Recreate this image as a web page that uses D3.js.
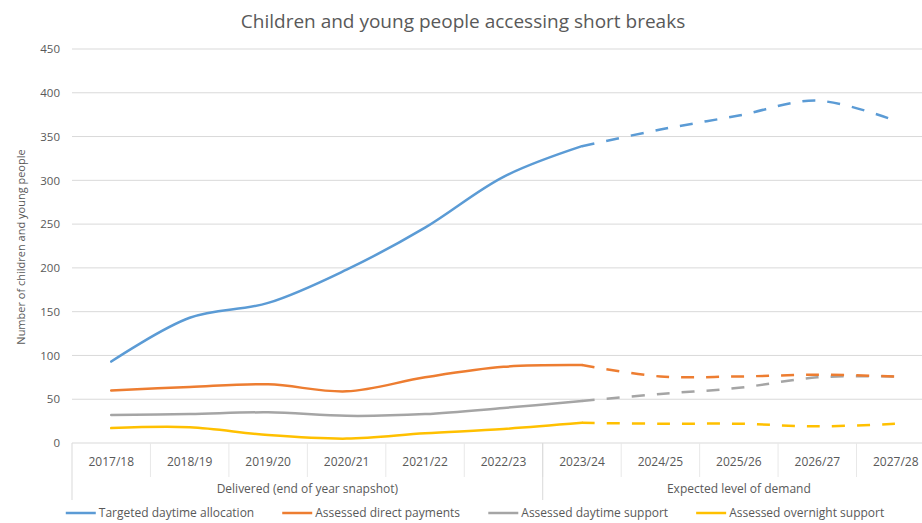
<!DOCTYPE html>
<html>
<head>
<meta charset="utf-8">
<script src="https://cdn.jsdelivr.net/npm/d3@7"></script>
<style>
  html, body { margin: 0; padding: 0; background: #fff; }
  svg { display: block; font-family: "Open Sans", sans-serif; }
</style>
</head>
<body>
<svg id="chart" width="922" height="523"></svg>
<script>
const categories = ["2017/18","2018/19","2019/20","2020/21","2021/22","2022/23","2023/24","2024/25","2025/26","2026/27","2027/28"];
const groups = [
  {label: "Delivered (end of year snapshot)", start: 0, end: 5},
  {label: "Expected level of demand", start: 6, end: 10}
];
const yTicks = [0, 50, 100, 150, 200, 250, 300, 350, 400, 450];

// delivered (solid) values, indices 0..6 ; expected (dashed) values, indices 6..10
const targetedDaytime   = [93, 143, 160, 198, 246, 304, 339];
const targetedDaytimeExp= [339, 358, 374, 391, 368];
const directPayments    = [60, 64, 67, 59, 75, 87, 89];
const directPaymentsExp = [89, 76, 76, 78, 76];
const daytimeSupport    = [32, 33, 35, 31, 33, 40, 48];
const daytimeSupportExp = [48, 56, 63, 75, 76];
const overnightSupport  = [17, 18, 9, 5, 11, 16, 23];
const overnightSupportExp=[23, 22, 22, 19, 22];

const seriesNames = ["Targeted daytime allocation","Assessed direct payments","Assessed daytime support","Assessed overnight support"];
const colors = ["#5B9BD5","#ED7D31","#A5A5A5","#FFC000"];

const series = [
  {name: seriesNames[0], color: colors[0], solid: targetedDaytime, dashed: targetedDaytimeExp},
  {name: seriesNames[1], color: colors[1], solid: directPayments, dashed: directPaymentsExp},
  {name: seriesNames[2], color: colors[2], solid: daytimeSupport, dashed: daytimeSupportExp},
  {name: seriesNames[3], color: colors[3], solid: overnightSupport, dashed: overnightSupportExp}
];

const svg = d3.select("#chart");
const textColor = "#595959";
const font = "'Open Sans', sans-serif";
const margin = {left: 72, right: 935, top: 49, bottom: 443};

const x = d3.scaleBand().domain(categories).range([margin.left, margin.right]);
const xc = c => x(c) + x.bandwidth() / 2;
const y = d3.scaleLinear().domain([0, 450]).range([margin.bottom, margin.top]);

// title
svg.append("text").attr("x", 463).attr("y", 28).attr("text-anchor", "middle")
  .attr("font-size", 19).attr("fill", textColor)
  .text("Children and young people accessing short breaks");

// gridlines
svg.append("g").selectAll("line").data(yTicks.filter(d => d > 0)).join("line")
  .attr("x1", margin.left).attr("x2", margin.right)
  .attr("y1", d => y(d)).attr("y2", d => y(d))
  .attr("stroke", "#d9d9d9").attr("stroke-width", 1);

// y axis labels
const yAxis = d3.axisLeft(y).tickValues(yTicks).tickSize(0).tickPadding(12);
const gy = svg.append("g").attr("transform", `translate(${margin.left},0)`).call(yAxis);
gy.select(".domain").remove();
gy.selectAll("text").attr("font-size", 11.5).attr("fill", textColor).attr("font-family", font);

// y axis title
svg.append("text").attr("transform", `translate(25,247) rotate(-90)`)
  .attr("text-anchor", "middle").attr("font-size", 11).attr("fill", textColor)
  .text("Number of children and young people");

// x axis line
svg.append("line").attr("x1", margin.left).attr("x2", margin.right)
  .attr("y1", margin.bottom).attr("y2", margin.bottom)
  .attr("stroke", "#d9d9d9").attr("stroke-width", 1);

// x axis category labels
const xAxis = d3.axisBottom(x).tickSize(0).tickPadding(14);
const gx = svg.append("g").attr("transform", `translate(0,${margin.bottom})`).call(xAxis);
gx.select(".domain").remove();
gx.selectAll("text").attr("font-size", 12).attr("fill", textColor).attr("font-family", font);

// category separators (inner ticks)
const innerTicks = categories.slice(1).map(c => x(c));
svg.append("g").selectAll("line").data(innerTicks).join("line")
  .attr("x1", d => d).attr("x2", d => d)
  .attr("y1", margin.bottom).attr("y2", margin.bottom + 34)
  .attr("stroke", "#e8e8e8").attr("stroke-width", 1);

// group separators and labels
const groupEdges = [x(categories[0]), x(categories[6]), margin.right];
svg.append("g").selectAll("line").data(groupEdges).join("line")
  .attr("x1", d => d).attr("x2", d => d)
  .attr("y1", margin.bottom).attr("y2", 500)
  .attr("stroke", "#d9d9d9").attr("stroke-width", 1);

svg.append("g").selectAll("text").data(groups).join("text")
  .attr("x", g => (x(categories[g.start]) + x(categories[g.end]) + x.bandwidth()) / 2)
  .attr("y", 493).attr("text-anchor", "middle")
  .attr("font-size", 12).attr("fill", textColor)
  .text(g => g.label);

// lines
const line = d3.line().x(d => xc(d.c)).y(d => y(d.v)).curve(d3.curveCatmullRom.alpha(0.5));
const lg = svg.append("g");
series.slice().reverse().forEach(s => {
  const solidPts = s.solid.map((v, i) => ({c: categories[i], v}));
  const dashPts = s.dashed.map((v, i) => ({c: categories[i + 6], v}));
  lg.append("path").datum(dashPts).attr("d", line)
    .attr("fill", "none").attr("stroke", s.color).attr("stroke-width", 2.5)
    .attr("stroke-dasharray", "13,12").attr("stroke-linecap", "butt");
  lg.append("path").datum(solidPts).attr("d", line)
    .attr("fill", "none").attr("stroke", s.color).attr("stroke-width", 2.5)
    .attr("stroke-linecap", "round");
});

// legend
const legend = svg.append("g");
const items = legend.selectAll("g").data(series).join("g");
items.append("line").attr("x1", 0).attr("x2", 30).attr("y1", 0).attr("y2", 0)
  .attr("stroke", d => d.color).attr("stroke-width", 2.5);
items.append("text").attr("x", 33).attr("y", 4).attr("font-size", 12).attr("fill", textColor)
  .text(d => d.name);
const widths = [];
items.each(function() { widths.push(this.getBBox().width); });
const gap = 28;
const total = d3.sum(widths) + gap * (widths.length - 1);
let cx = 475 - total / 2;
items.attr("transform", (d, i) => { const t = `translate(${cx},513)`; cx += widths[i] + gap; return t; });
</script>
</body>
</html>
